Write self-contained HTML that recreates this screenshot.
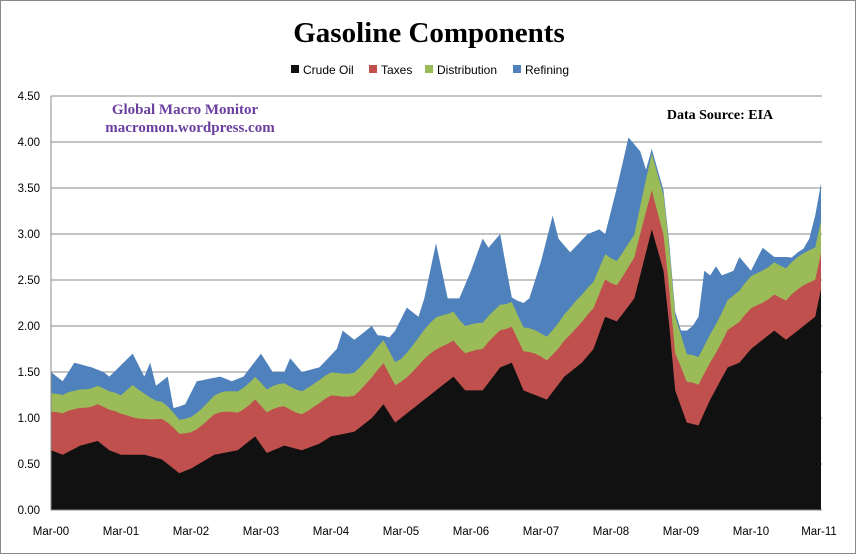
<!DOCTYPE html>
<html><head><meta charset="utf-8"><style>
body{margin:0;background:#fff;}
svg{display:block;}
</style></head><body>
<svg id="s" width="858" height="556" xmlns="http://www.w3.org/2000/svg" font-family="'Liberation Sans',sans-serif">
<rect x="0.5" y="0.5" width="855" height="553" fill="#fff" stroke="#888"/>
<text x="429" y="42" text-anchor="middle" font-family="'Liberation Serif',serif" font-weight="bold" font-size="29">Gasoline Components</text>
<g font-size="12" fill="#000">
<rect x="291" y="65" width="8" height="8" fill="#111"/><text x="303" y="74">Crude Oil</text>
<rect x="369" y="65" width="8" height="8" fill="#c0504d"/><text x="381" y="74">Taxes</text>
<rect x="425" y="65" width="8" height="8" fill="#9bbb59"/><text x="437" y="74">Distribution</text>
<rect x="513" y="65" width="8" height="8" fill="#4f81bd"/><text x="525" y="74">Refining</text>
</g>
<g id="grid"></g>
<g id="areas"></g>
<line x1="51" y1="96" x2="51" y2="510" stroke="#888"/>
<line x1="51" y1="510" x2="822" y2="510" stroke="#888"/>
<g font-family="'Liberation Serif',serif" font-weight="bold">
<text x="185" y="114" text-anchor="middle" font-size="15" fill="#6a3fa0">Global Macro Monitor</text>
<text x="190" y="132" text-anchor="middle" font-size="15" fill="#6a3fa0">macromon.wordpress.com</text>
<text x="720" y="119" text-anchor="middle" font-size="14" fill="#000">Data Source:  EIA</text>
</g>
<g id="lbl" font-size="11.5" fill="#000"></g>
</svg>
<script>
var NS="http://www.w3.org/2000/svg";
function el(t,a,p){var e=document.createElementNS(NS,t);for(var k in a)e.setAttribute(k,a[k]);p.appendChild(e);return e;}
var X0=51,X1=821,Y0=510,S=92;
function X(i){return X0+i*(X1-X0)/132;}
function Y(v){return Y0-v*S;}
var g=document.getElementById('grid'),l=document.getElementById('lbl');
for(var k=0;k<=9;k++){var v=k*0.5;if(k>0)el('line',{x1:51,x2:822,y1:Y(v),y2:Y(v),stroke:'#888'},g);
var t=el('text',{x:40,y:Y(v)+4,'text-anchor':'end'},l);t.textContent=v.toFixed(2);}
for(var yy=0;yy<=11;yy++){var t=el('text',{x:X(yy*12)+(yy==11?-2:0),y:535,'text-anchor':'middle'},l);t.textContent='Mar-'+(yy<10?'0':'')+yy;}
function interp(kf,i){for(var j=0;j<kf.length-1;j++){if(i>=kf[j][0]&&i<=kf[j+1][0]){var f=(i-kf[j][0])/(kf[j+1][0]-kf[j][0]);return kf[j][1]+f*(kf[j+1][1]-kf[j][1]);}}return kf[kf.length-1][1];}
var crude=[[0,.65],[2,.6],[5,.7],[8,.75],[10,.65],[12,.6],[16,.6],[19,.55],[21,.45],[22,.4],[24,.45],[28,.6],[32,.65],[35,.8],[37,.62],[40,.7],[43,.65],[46,.72],[48,.8],[52,.85],[55,1.0],[57,1.15],[59,.95],[61,1.05],[64,1.2],[66,1.3],[69,1.45],[71,1.3],[74,1.3],[77,1.55],[79,1.6],[81,1.3],[83,1.25],[85,1.2],[88,1.45],[91,1.6],[93,1.75],[95,2.1],[97,2.05],[100,2.3],[103,3.05],[105,2.6],[106,2.0],[107,1.3],[109,.95],[111,.92],[113,1.2],[116,1.55],[118,1.6],[120,1.75],[122,1.85],[124,1.95],[126,1.85],[130,2.05],[131,2.1],[132,2.4]];
var dist=[[0,.2],[12,.2],[14,.35],[18,.2],[22,.15],[30,.22],[36,.25],[48,.25],[60,.25],[66,.35],[70,.3],[84,.25],[90,.3],[100,.25],[103,.4],[106,.45],[109,.3],[112,.3],[120,.35],[132,.35]];
var total=[[0,1.5],[2,1.4],[4,1.6],[7,1.55],[9,1.5],[10,1.45],[14,1.7],[16,1.45],[17,1.6],[18,1.35],[20,1.45],[21,1.1],[23,1.15],[25,1.4],[29,1.45],[31,1.4],[33,1.45],[36,1.7],[38,1.5],[40,1.5],[41,1.65],[43,1.5],[46,1.55],[49,1.75],[50,1.95],[52,1.85],[54,1.95],[55,2.0],[57,1.8],[59,1.95],[61,2.2],[63,2.1],[64,2.3],[66,2.9],[68,2.3],[70,2.3],[72,2.6],[74,2.95],[75,2.85],[77,3.0],[79,2.3],[81,2.25],[82,2.3],[84,2.7],[86,3.2],[87,2.95],[89,2.8],[92,3.0],[94,3.05],[95,3.0],[97,3.5],[99,4.05],[101,3.9],[102,3.7],[104,3.0],[105,2.4],[106,1.7],[107,1.8],[109,1.95],[110,2.0],[111,2.1],[112,2.6],[113,2.55],[114,2.65],[115,2.55],[117,2.6],[118,2.75],[120,2.6],[122,2.85],[124,2.75],[126,2.75],[127,2.7],[129,2.8],[130,2.95],[131,3.2],[132,3.55]];
var L=[[],[],[],[]];
for(var i=0;i<=132;i++){var c=interp(crude,i);var tx=0.42+0.03*Math.sin(i*0.7);var t1=c+tx;var t2=t1+interp(dist,i);var t3=Math.max(interp(total,i),t2+0.05);L[0].push(c);L[1].push(t1);L[2].push(t2);L[3].push(t3);}
var cols=['#111','#c0504d','#9bbb59','#4f81bd'];var a=document.getElementById('areas');
for(var s=3;s>=0;s--){var d='M'+X(0)+','+Y0;for(var i=0;i<=132;i++)d+=' L'+X(i).toFixed(1)+','+Y(L[s][i]).toFixed(1);d+=' L'+X(132)+','+Y0+' Z';el('path',{d:d,fill:cols[s]},a);}
</script>
</body></html>
